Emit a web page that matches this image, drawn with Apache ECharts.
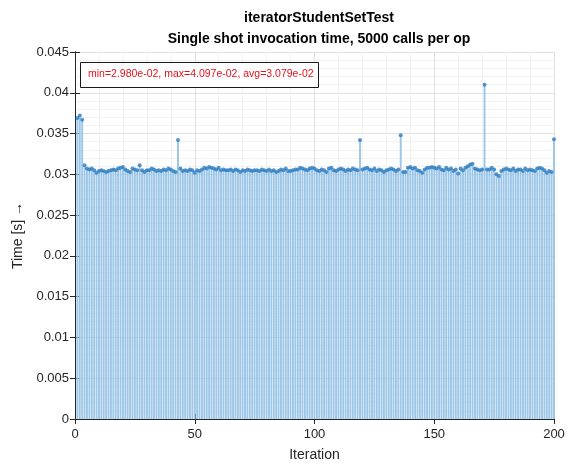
<!DOCTYPE html>
<html>
<head>
<meta charset="utf-8">
<script src="https://cdn.jsdelivr.net/npm/echarts@6/dist/echarts.min.js"></script>
<style>
  html, body { margin: 0; padding: 0; background: #fff; }
  #chart { width: 567px; height: 463px; }
</style>
</head>
<body>
<div id="chart"></div>
<script>
// Iterations 1..200 and the measured single-shot time of each one (seconds)
const iterations = Array.from({ length: 200 }, (_, i) => i + 1);
const times = [
  0.0369, 0.0372, 0.0367, 0.0311, 0.0307, 0.0306, 0.0307, 0.0305, 0.0302, 0.0304,
  0.0305, 0.0304, 0.0303, 0.0304, 0.0305, 0.0306, 0.0305, 0.0307, 0.0308, 0.0309,
  0.0306, 0.0304, 0.0303, 0.0307, 0.0306, 0.0305, 0.0311, 0.0305, 0.0303, 0.0305,
  0.0305, 0.0307, 0.0306, 0.0304, 0.0305, 0.0304, 0.0306, 0.0305, 0.0307, 0.0306,
  0.0304, 0.0303, 0.0342, 0.0307, 0.0304, 0.0305, 0.0304, 0.0306, 0.0305, 0.0302,
  0.0305, 0.0304, 0.0306, 0.0308, 0.0307, 0.0309, 0.0308, 0.0307, 0.0306, 0.0308,
  0.0305, 0.0306, 0.0305, 0.0305, 0.0306, 0.0304, 0.0306, 0.0305, 0.0303, 0.0305,
  0.0304, 0.0306, 0.0305, 0.0304, 0.0305, 0.0305, 0.0304, 0.0306, 0.0305, 0.0304,
  0.0306, 0.0304, 0.0305, 0.0303, 0.0304, 0.0306, 0.0305, 0.0307, 0.0304, 0.0304,
  0.0305, 0.0306, 0.0306, 0.0308, 0.0307, 0.0306, 0.0305, 0.0307, 0.0308, 0.0307,
  0.0305, 0.0304, 0.0306, 0.0305, 0.0303, 0.0307, 0.0308, 0.0305, 0.0304, 0.0306,
  0.0307, 0.0306, 0.0304, 0.0306, 0.0305, 0.0307, 0.0306, 0.0305, 0.0342, 0.0306,
  0.0307, 0.0308, 0.0306, 0.0305, 0.0307, 0.0304, 0.0306, 0.0305, 0.0303, 0.0305,
  0.0306, 0.0307, 0.0306, 0.0304, 0.0306, 0.0348, 0.0303, 0.0303, 0.0308, 0.0309,
  0.0307, 0.0308, 0.0305, 0.0304, 0.0302, 0.0306, 0.0308, 0.0308, 0.0309, 0.0308,
  0.0307, 0.0309, 0.0306, 0.0305, 0.0308, 0.0306, 0.0307, 0.0304, 0.0306, 0.0301,
  0.0307, 0.0305, 0.0308, 0.0310, 0.0312, 0.0313, 0.0307, 0.0306, 0.0305, 0.0306,
  0.04097, 0.0306, 0.0306, 0.0308, 0.0306, 0.0300, 0.0298, 0.0304, 0.0306, 0.0307,
  0.0306, 0.0305, 0.0307, 0.0304, 0.0306, 0.0306, 0.0304, 0.0307, 0.0305, 0.0306,
  0.0305, 0.0304, 0.0307, 0.0308, 0.0307, 0.0305, 0.0302, 0.0304, 0.0303, 0.0343
];

const xTicks = { min: 0, max: 200, interval: 50 };
const yTicks = { min: 0, max: 0.045, interval: 0.005 };

// Summary statistics shown in the annotation box
const tMin = Math.min(...times);
const tMax = Math.max(...times);
const tAvg = times.reduce((a, b) => a + b, 0) / times.length;
const fmtExp = v => v.toExponential(3).replace(/e-(\d)$/, 'e-0$1');
const statsText = 'min=' + fmtExp(tMin) + ', max=' + fmtExp(tMax) + ', avg=' + fmtExp(tAvg);

const points = iterations.map((x, i) => [x, times[i]]);

const FONT = 'Liberation Sans, Arial, sans-serif';
const AX = '#262626';

const chart = echarts.init(document.getElementById('chart'), null, { renderer: 'canvas' });
chart.setOption({
  animation: false,
  backgroundColor: '#ffffff',
  title: {
    text: 'iteratorStudentSetTest\nSingle shot invocation time, 5000 calls per op',
    left: 314, top: 3, textAlign: 'center',
    textStyle: { fontFamily: FONT, fontSize: 14, fontWeight: 'bold', color: '#000', lineHeight: 21 }
  },
  grid: { left: 75, right: 13, top: 52, bottom: 44, containLabel: false, outerBoundsMode: 'none' },
  xAxis: [{
    type: 'value', min: xTicks.min, max: xTicks.max, interval: xTicks.interval,
    name: 'Iteration', nameLocation: 'middle', nameGap: 29,
    nameTextStyle: { fontFamily: FONT, fontSize: 14, color: AX },
    axisLine: { show: true, onZero: false, lineStyle: { color: AX, width: 1 } },
    axisTick: { show: true, inside: true, length: 5, lineStyle: { color: AX } },
    axisLabel: { fontFamily: FONT, fontSize: 13, color: AX, margin: 9 },
    splitLine: { show: true, lineStyle: { color: '#e0e0e0', width: 1 } },
    minorTick: { show: false, splitNumber: 5 },
    minorSplitLine: { show: true, lineStyle: { color: '#f2f2f2', width: 1 } }
  }, {
    type: 'value', position: 'top', min: xTicks.min, max: xTicks.max, interval: xTicks.interval,
    axisLine: { show: true, lineStyle: { color: AX, width: 1 } },
    axisTick: { show: true, inside: true, length: 5, lineStyle: { color: AX } },
    axisLabel: { show: false }, splitLine: { show: false }
  }],
  yAxis: [{
    type: 'value', min: yTicks.min, max: yTicks.max, interval: yTicks.interval,
    name: 'Time [s] \u2192', nameLocation: 'middle', nameGap: 47, nameRotate: 90,
    nameTextStyle: { fontFamily: FONT, fontSize: 14, color: AX },
    axisLine: { show: true, onZero: false, lineStyle: { color: AX, width: 1 } },
    axisTick: { show: true, inside: true, length: 5, lineStyle: { color: AX } },
    axisLabel: { fontFamily: FONT, fontSize: 13, color: AX, margin: 6 },
    splitLine: { show: true, lineStyle: { color: '#e0e0e0', width: 1 } },
    minorTick: { show: false, splitNumber: 5 },
    minorSplitLine: { show: true, lineStyle: { color: '#f2f2f2', width: 1 } }
  }, {
    type: 'value', position: 'right', min: yTicks.min, max: yTicks.max, interval: yTicks.interval,
    axisLine: { show: true, lineStyle: { color: AX, width: 1 } },
    axisTick: { show: true, inside: true, length: 5, lineStyle: { color: AX } },
    axisLabel: { show: false }, splitLine: { show: false }
  }],
  graphic: [{
    type: 'rect', left: 80, top: 62, z: 100,
    shape: { x: 0, y: 0, width: 238, height: 25 },
    style: { fill: '#ffffff', stroke: '#1a1a1a', lineWidth: 1 }
  }, {
    type: 'text', left: 88, top: 69, z: 101,
    style: { text: statsText, fill: '#e8101a', font: '10.5px ' + FONT }
  }],
  series: [{
    // stems
    type: 'bar', data: points, barWidth: 1.9,
    itemStyle: { color: '#9cc6e8' },
    emphasis: { disabled: true }
  }, {
    // stem heads
    type: 'scatter', data: points, symbol: 'circle', symbolSize: 4,
    itemStyle: { color: '#2c7cc0' },
    emphasis: { disabled: true }
  }]
});
</script>
</body>
</html>
